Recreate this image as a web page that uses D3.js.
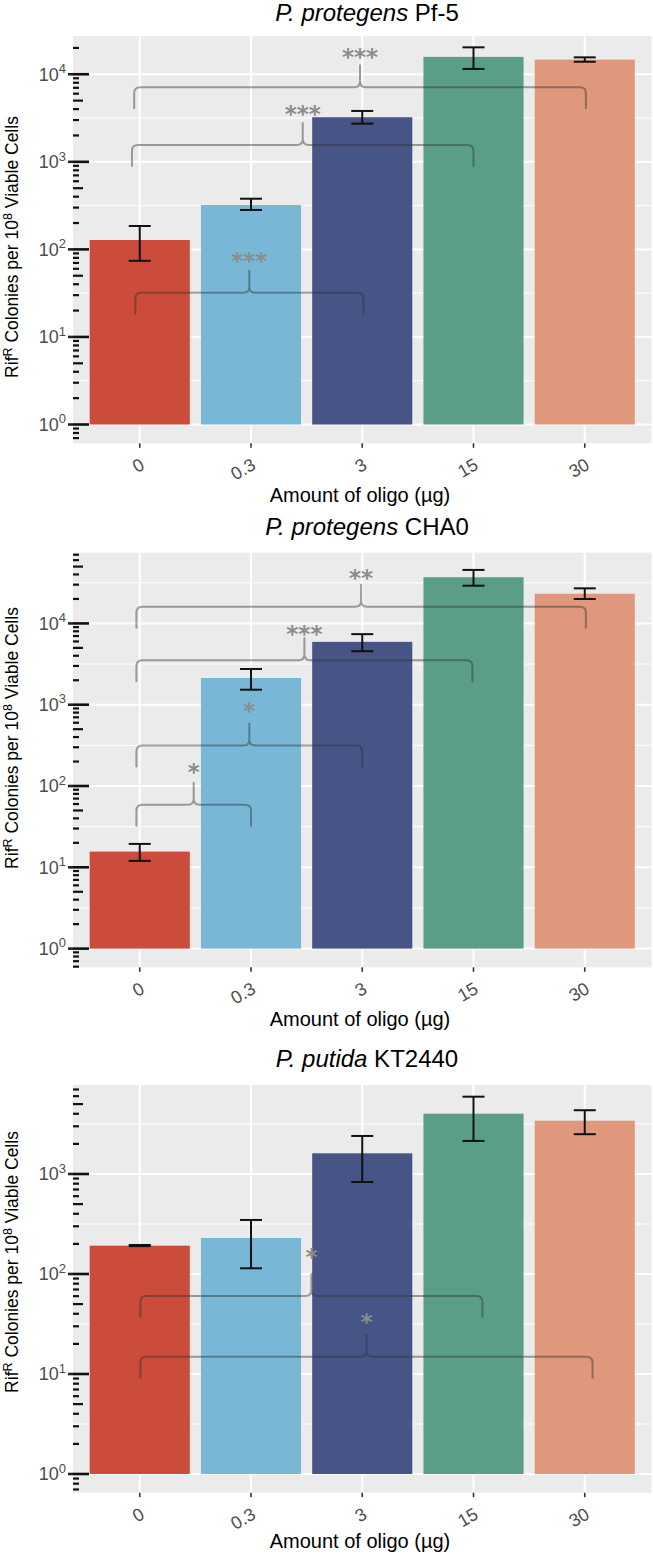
<!DOCTYPE html>
<html><head><meta charset="utf-8">
<script src="https://cdn.jsdelivr.net/npm/d3@7"></script>
<style>body{margin:0;background:#fff}svg{display:block}</style>
</head><body><svg id="chart" width="653" height="1554"></svg>
<script>
// ---------- data ----------
const categories = ["0", "0.3", "3", "15", "30"];
const barColors = ["#cb4c3a", "#78b8d6", "#465486", "#5b9e86", "#e0987c"];

const pf5Mean = [128, 321, 3230, 15800, 14700];
const pf5Lo   = [74, 282, 2730, 11500, 13900];
const pf5Hi   = [185, 379, 3810, 20300, 15600];

const cha0Mean = [15.6, 2130, 5930, 37000, 23200];
const cha0Lo   = [12.0, 1530, 4550, 29100, 19950];
const cha0Hi   = [19.4, 2750, 7380, 45500, 27000];

const kt2440Mean = [192, 229, 1610, 4010, 3410];
const kt2440Lo   = [190, 114, 832, 2140, 2500];
const kt2440Hi   = [195, 347, 2400, 5930, 4340];

// significance braces: from/to in category units, y = brace line value, labelY = star value
const pf5Braces = [
  {from: -0.04, to: 2.01, y: 32.0, label: "***", labelY: 82.6},
  {from: -0.07, to: 3.00, y: 1556, label: "***", labelY: 3908},
  {from: -0.05, to: 4.01, y: 7112, label: "***", labelY: 17380}
];
const cha0Braces = [
  {from: -0.03, to: 1.00, y: 58.7, label: "*", labelY: 166.7},
  {from: -0.03, to: 2.00, y: 315, label: "*", labelY: 933},
  {from: -0.03, to: 2.99, y: 3524, label: "***", labelY: 8260},
  {from: -0.03, to: 4.01, y: 16030, label: "**", labelY: 40270}
];
const kt2440Braces = [
  {from: 0.006, to: 3.08, y: 60.3, label: "*", labelY: 161},
  {from: 0.006, to: 4.07, y: 14.9, label: "*", labelY: 36.1}
];

const titleItalic = ["P. protegens", "P. protegens", "P. putida"];
const titleRest = [" Pf-5", " CHA0", " KT2440"];
const xAxisTitle = "Amount of oligo (µg)";

// ---------- layout ----------
const L = 73, R = 651.5;
const FONT = "'Liberation Sans', Arial, Helvetica, sans-serif";
const panels = [
  {mean: pf5Mean, lo: pf5Lo, hi: pf5Hi, braces: pf5Braces, yDomain: [0.61, 27350],
   top: 36, bottom: 443.3, titleY: 21, xTitleY: 501.7, yTitleC: 247},
  {mean: cha0Mean, lo: cha0Lo, hi: cha0Hi, braces: cha0Braces, yDomain: [0.589, 74100],
   top: 552.7, bottom: 967.3, titleY: 535, xTitleY: 1026, yTitleC: 738},
  {mean: kt2440Mean, lo: kt2440Lo, hi: kt2440Hi, braces: kt2440Braces, yDomain: [0.65, 7760],
   top: 1085, bottom: 1492.7, titleY: 1066.7, xTitleY: 1548.4, yTitleC: 1262}
];

const svg = d3.select("#chart");
svg.append("rect").attr("width", 653).attr("height", 1554).attr("fill", "#fff");

const x = d3.scalePoint().domain(categories).range([L, R]).padding(0.6);
const step = x.step();
const bw = step * 0.9;
const xu = u => x(categories[0]) + u * step;

function bracePath(x1, x2, yh, drop, rise, r) {
  const xm = (x1 + x2) / 2;
  return `M${x1},${yh + drop} L${x1},${yh + r} Q${x1},${yh} ${x1 + r},${yh} L${xm - r},${yh} ` +
    `Q${xm},${yh} ${xm},${yh - r} L${xm},${yh - rise} L${xm},${yh - r} Q${xm},${yh} ${xm + r},${yh} ` +
    `L${x2 - r},${yh} Q${x2},${yh} ${x2},${yh + r} L${x2},${yh + drop}`;
}

panels.forEach((p, pi) => {
  const y = d3.scaleLog().domain(p.yDomain).range([p.bottom, p.top]);
  const g = svg.append("g");
  const lmin = Math.log10(p.yDomain[0]), lmax = Math.log10(p.yDomain[1]);
  const kLo = Math.floor(lmin), kHi = Math.ceil(lmax);
  const decades = d3.range(kLo, kHi + 1).map(k => Math.pow(10, k)).filter(v => v >= p.yDomain[0] && v <= p.yDomain[1]);
  const minors = d3.range(kLo, kHi + 1).map(k => Math.pow(10, k + 0.5)).filter(v => v >= p.yDomain[0] && v <= p.yDomain[1]);

  // background
  g.append("rect").attr("x", L).attr("y", p.top).attr("width", R - L).attr("height", p.bottom - p.top).attr("fill", "#ebebeb");
  // grid
  g.selectAll(".minor").data(minors).join("line")
    .attr("x1", L).attr("x2", R).attr("y1", d => y(d)).attr("y2", d => y(d))
    .attr("stroke", "#fff").attr("stroke-width", 1);
  g.selectAll(".major").data(decades).join("line")
    .attr("x1", L).attr("x2", R).attr("y1", d => y(d)).attr("y2", d => y(d))
    .attr("stroke", "#fff").attr("stroke-width", 2);
  g.selectAll(".vgrid").data(categories).join("line")
    .attr("x1", d => x(d)).attr("x2", d => x(d)).attr("y1", p.top).attr("y2", p.bottom)
    .attr("stroke", "#fff").attr("stroke-width", 2);

  // bars
  g.selectAll(".bar").data(categories).join("rect")
    .attr("x", d => x(d) - bw / 2).attr("width", bw)
    .attr("y", (d, i) => y(p.mean[i])).attr("height", (d, i) => y(1) - y(p.mean[i]))
    .attr("fill", (d, i) => barColors[i]);

  // error bars
  const eg = g.append("g").attr("stroke", "#111").attr("stroke-width", 2).attr("fill", "none");
  categories.forEach((c, i) => {
    const cx = x(c), yt = y(p.hi[i]), yb = y(p.lo[i]);
    eg.append("line").attr("x1", cx).attr("x2", cx).attr("y1", yt).attr("y2", yb);
    eg.append("line").attr("x1", cx - 11).attr("x2", cx + 11).attr("y1", yt).attr("y2", yt);
    eg.append("line").attr("x1", cx - 11).attr("x2", cx + 11).attr("y1", yb).attr("y2", yb);
  });

  // braces
  p.braces.forEach(b => {
    const bg = g.append("g").attr("opacity", 0.45);
    bg.append("path").attr("d", bracePath(xu(b.from), xu(b.to), y(b.y), 21, 22, 6))
      .attr("fill", "none").attr("stroke", "#333").attr("stroke-width", 2)
      .attr("stroke-linejoin", "round").attr("stroke-linecap", "round");
    g.append("text").attr("x", (xu(b.from) + xu(b.to)) / 2).attr("y", y(b.labelY) + 12)
      .attr("text-anchor", "middle").attr("font-family", "'DejaVu Sans', sans-serif")
      .attr("font-size", 23).attr("font-weight", "bold").attr("fill", "#8c8c8c").text(b.label);
  });

  // log ticks (annotation_logticks on left)
  const lt = [];
  for (let k = kLo; k <= kHi; k++) {
    for (let m = 1; m <= 9; m++) {
      const v = m * Math.pow(10, k);
      if (v >= p.yDomain[0] && v <= p.yDomain[1]) lt.push({v, m});
    }
  }
  g.selectAll(".lt").data(lt).join("line")
    .attr("x1", L).attr("x2", d => d.m === 1 ? L + 16 : d.m === 5 ? L + 10 : L + 6)
    .attr("y1", d => y(d.v)).attr("y2", d => y(d.v))
    .attr("stroke", "#111").attr("stroke-width", d => d.m === 1 ? 2.6 : 2.2);

  // y axis ticks + labels
  g.selectAll(".yt").data(decades).join("line")
    .attr("x1", L - 5).attr("x2", L).attr("y1", d => y(d)).attr("y2", d => y(d))
    .attr("stroke", "#222").attr("stroke-width", 2.6);
  const yl = g.selectAll(".yl").data(decades).join("text")
    .attr("x", 66).attr("y", d => y(d)).attr("dy", "0.36em")
    .attr("text-anchor", "end").attr("font-family", FONT).attr("font-size", 18).attr("fill", "#4d4d4d");
  yl.append("tspan").text("10");
  yl.append("tspan").attr("font-size", 13).attr("dy", "-0.6em").text(d => Math.round(Math.log10(d)));

  // x axis ticks + labels
  g.selectAll(".xt").data(categories).join("line")
    .attr("x1", d => x(d)).attr("x2", d => x(d)).attr("y1", p.bottom).attr("y2", p.bottom + 4.5)
    .attr("stroke", "#333").attr("stroke-width", 1.6);
  g.selectAll(".xl").data(categories).join("text")
    .attr("transform", d => `translate(${x(d) + 6},${p.bottom + 25}) rotate(-30)`)
    .attr("text-anchor", "end").attr("font-family", FONT).attr("font-size", 18).attr("fill", "#4d4d4d")
    .text(d => d);

  // x axis title
  g.append("text").attr("x", 360).attr("y", p.xTitleY).attr("text-anchor", "middle")
    .attr("font-family", FONT).attr("font-size", 20).attr("fill", "#000").text(xAxisTitle);

  // y axis title
  const yt = g.append("text").attr("transform", `translate(18,${p.yTitleC}) rotate(-90)`)
    .attr("text-anchor", "middle").attr("font-family", FONT).attr("font-size", 17.5).attr("fill", "#000");
  yt.append("tspan").text("Rif");
  yt.append("tspan").attr("font-size", 12.5).attr("dy", "-0.5em").text("R");
  yt.append("tspan").attr("dy", "0.36em").text(" Colonies per 10");
  yt.append("tspan").attr("font-size", 12.5).attr("dy", "-0.5em").text("8");
  yt.append("tspan").attr("dy", "0.36em").text(" Viable Cells");

  // title
  const tt = g.append("text").attr("x", 367).attr("y", p.titleY).attr("text-anchor", "middle")
    .attr("font-family", FONT).attr("font-size", 24).attr("fill", "#000");
  tt.append("tspan").attr("font-style", "italic").text(titleItalic[pi]);
  tt.append("tspan").text(titleRest[pi]);
});
</script>
</body></html>
